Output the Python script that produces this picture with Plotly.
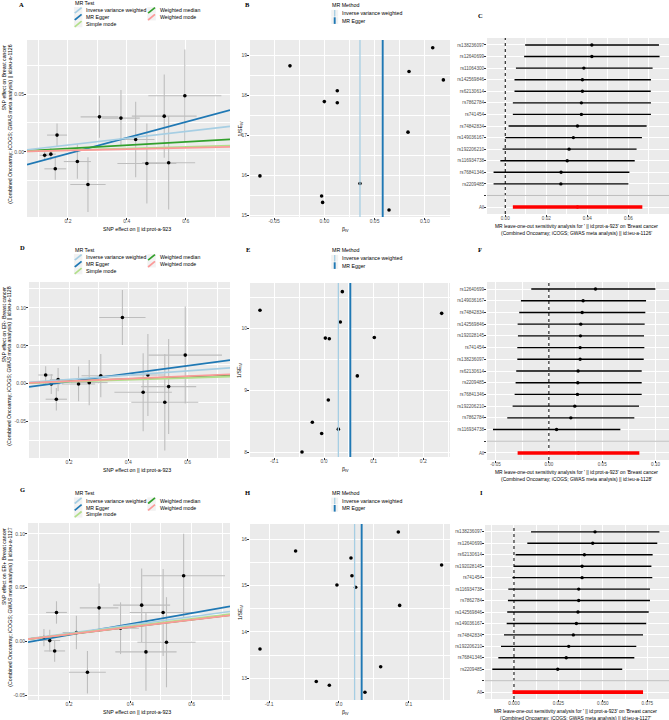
import numpy as np
import plotly.graph_objects as go

W, H = 669, 720
FONT = "Liberation Sans"
GRID_BG = "#EBEBEB"
TICK_COL = "#4D4D4D"

### Couleurs des méthodes MR ###
COLS = {"Inverse variance weighted": "#A6CEE3", "MR Egger": "#1F78B4",
        "Simple mode": "#B2DF8A", "Weighted median": "#33A02C", "Weighted mode": "#FB9A99"}
DRAW_ORDER = ["MR Egger", "Weighted median", "Inverse variance weighted", "Simple mode", "Weighted mode"]

### Données : scatter plots (A, D, G) ###
a_bx = [0.163, 0.157, 0.121, 0.142, 0.232, 0.268, 0.307, 0.380, 0.430, 0.468, 0.527, 0.542, 0.597]
a_bx_se = [0.034, 0.037, 0.017, 0.017, 0.046, 0.060, 0.064, 0.064, 0.064, 0.100, 0.110, 0.090, 0.124]
a_by = [0.0145, -0.0147, -0.0030, -0.0020, -0.0084, -0.0283, 0.0303, 0.0292, 0.0107, -0.0101, 0.0309, -0.0095, 0.0486]
a_by_se = [0.0101, 0.0094, 0.0043, 0.0050, 0.0150, 0.0237, 0.0182, 0.0243, 0.0327, 0.0347, 0.0361, 0.0405, 0.0400]
a_lines = {"MR Egger": (-0.0152, 0.0684), "Weighted median": (0, 0.0143),
           "Inverse variance weighted": (0, 0.0295), "Simple mode": (0, 0.0073), "Weighted mode": (0, 0.0058)}

d_bx = [0.121, 0.140, 0.157, 0.163, 0.232, 0.268, 0.307, 0.380, 0.450, 0.466, 0.523, 0.536, 0.592]
d_bx_se = [0.025, 0.029, 0.036, 0.028, 0.056, 0.062, 0.065, 0.078, 0.097, 0.056, 0.113, 0.093, 0.124]
d_by = [0.0114, -0.0004, -0.0206, 0.0053, -0.0004, 0.0013, 0.0105, 0.0873, -0.0114, 0.0114, -0.0246, -0.0039, 0.0377]
d_by_se = [0.0116, 0.0132, 0.0149, 0.0154, 0.0230, 0.0300, 0.0285, 0.0362, 0.0515, 0.0540, 0.0636, 0.0627, 0.0640]
d_lines = {"MR Egger": (-0.0078, 0.0524), "Weighted median": (0, 0.0153),
           "Inverse variance weighted": (0, 0.0280), "Simple mode": (0, 0.0124), "Weighted mode": (0, 0.0165)}

g_bx = [0.159, 0.118, 0.137, 0.153, 0.224, 0.260, 0.298, 0.368, 0.437, 0.451, 0.507, 0.518, 0.574]
g_bx_se = [0.034, 0.018, 0.034, 0.034, 0.045, 0.060, 0.063, 0.060, 0.093, 0.100, 0.109, 0.095, 0.135]
g_by = [0.0270, 0.0037, 0.0009, -0.0087, 0.0084, -0.0285, 0.0313, 0.0124, 0.0338, -0.0096, 0.0270, -0.0006, 0.0610]
g_by_se = [0.0104, 0.0080, 0.0101, 0.0101, 0.0155, 0.0197, 0.0225, 0.0240, 0.0341, 0.0360, 0.0404, 0.0418, 0.0390]
g_lines = {"MR Egger": (-0.0039, 0.0503), "Weighted median": (0, 0.0338),
           "Inverse variance weighted": (0, 0.0385), "Simple mode": (0, 0.0350), "Weighted mode": (0, 0.0334)}

### Données : funnel plots (B, E, H) ###
b_biv = [-0.0641, -0.0342, -0.0027, -0.0017, 0.0000, 0.0129, 0.0129, 0.0355, 0.0644, 0.0833, 0.0843, 0.1079, 0.1185]
b_invse = [15.99, 18.73, 15.49, 15.33, 17.84, 18.11, 17.81, 15.80, 15.14, 17.08, 18.59, 19.18, 18.38]
b_est = {"Inverse variance weighted": 0.0355, "MR Egger": 0.0581}

e_biv = [-0.1289, -0.0443, -0.0235, -0.0047, 0.0027, 0.0107, 0.0087, 0.0289, 0.0329, 0.0369, 0.0671, 0.1013, 0.2369]
e_invse = [10.29, 8.00, 8.48, 8.30, 9.84, 9.83, 8.84, 8.37, 10.10, 10.59, 9.23, 9.85, 10.24]
e_est = {"Inverse variance weighted": 0.0289, "MR Egger": 0.0530}

h_biv = [-0.1131, -0.0621, -0.0325, -0.0138, -0.0029, 0.0172, 0.0186, 0.0239, 0.0372, 0.0597, 0.0850, 0.0869, 0.1470]
h_invse = [13.63, 15.74, 12.93, 12.85, 15.01, 15.59, 15.21, 14.96, 12.70, 13.25, 16.15, 14.57, 15.44]
h_est = {"Inverse variance weighted": 0.0224, "MR Egger": 0.0325}

### Données : leave-one-out (C, F, I), de haut en bas ###
c_snp = ["rs138236097", "rs12640699", "rs11064300", "rs142569846", "rs62130614", "rs7862784", "rs741454",
         "rs74842834", "rs149036167", "rs192206210", "rs116934738", "rs76841346", "rs2209485"]
c_b = [0.0422, 0.0422, 0.0383, 0.0376, 0.0376, 0.0371, 0.0371, 0.0352, 0.0332, 0.0311, 0.0302, 0.0272, 0.0271]
c_lo = [0.0097, 0.0092, 0.0052, 0.0045, 0.0045, 0.0037, 0.0037, 0.0016, 0.0000, -0.0013, -0.0024, -0.0057, -0.0057]
c_hi = [0.0749, 0.0752, 0.0718, 0.0710, 0.0709, 0.0710, 0.0710, 0.0689, 0.0666, 0.0640, 0.0631, 0.0605, 0.0600]
c_all = (0.0352, 0.0037, 0.0668)

f_snp = ["rs12640699", "rs149036167", "rs74842834", "rs142569846", "rs192028145", "rs741454", "rs138236097",
         "rs62130614", "rs2209485", "rs76841346", "rs192206210", "rs7862784", "rs116934738"]
f_b = [0.0437, 0.0321, 0.0312, 0.0299, 0.0296, 0.0293, 0.0293, 0.0274, 0.0271, 0.0268, 0.0243, 0.0206, 0.0072]
f_lo = [-0.0165, -0.0262, -0.0278, -0.0293, -0.0290, -0.0296, -0.0296, -0.0306, -0.0312, -0.0321, -0.0340, -0.0390, -0.0524]
f_hi = [0.0998, 0.0911, 0.0904, 0.0898, 0.0892, 0.0895, 0.0889, 0.0870, 0.0870, 0.0870, 0.0845, 0.0801, 0.0670]
f_all = (0.0278, -0.0293, 0.0848)

i_snp = ["rs138236097", "rs12640699", "rs62130614", "rs192028145", "rs741454", "rs116934738", "rs7862784",
         "rs142569846", "rs149036167", "rs74842834", "rs192206210", "rs76841346", "rs2209485"]
i_b = [0.0456, 0.0443, 0.0396, 0.0383, 0.0383, 0.0364, 0.0364, 0.0360, 0.0351, 0.0334, 0.0308, 0.0294, 0.0246]
i_lo = [0.0096, 0.0075, 0.0009, 0.0000, -0.0009, -0.0032, -0.0034, -0.0038, -0.0041, -0.0056, -0.0073, -0.0088, -0.0122]
i_hi = [0.0818, 0.0806, 0.0780, 0.0773, 0.0778, 0.0765, 0.0765, 0.0758, 0.0744, 0.0726, 0.0688, 0.0677, 0.0609]
i_all = (0.0359, -0.0008, 0.0726)

### Textes ###
exposure_lab = "SNP effect on || id:prot-a-923"
outcome_tail = "(Combined Oncoarray; iCOGS; GWAS meta analysis) || id:ieu-a-"
loo_head = "MR leave-one-out sensitivity analysis for ' || id:prot-a-923' on 'Breast cancer"


def px(x):
    return x / W


def py(y):
    return 1 - y / H


fig = go.Figure()
annots = []
shapes = []
layout_axes = {}


def ann(x, y, text, size, xanchor="center", yanchor="middle", angle=0, color="black", family=FONT):
    annots.append(dict(x=px(x), y=py(y), xref="paper", yref="paper", text=text, showarrow=False,
                       xanchor=xanchor, yanchor=yanchor, textangle=angle,
                       font=dict(family=family, size=size, color=color)))


def axis(dom, rng, ticks, labels, minor, anchor, size=5, horiz=True):
    d = px(dom[0]), px(dom[1])
    if not horiz:
        d = py(dom[1]), py(dom[0])
    ax = dict(domain=list(d), range=rng, tickmode="array", tickvals=ticks, ticktext=labels,
              showgrid=True, gridcolor="white", gridwidth=1.1, zeroline=False, showline=False,
              ticks="outside", ticklen=2, tickwidth=0.6, tickcolor="#333333",
              ticklabelstandoff=-3 if horiz else -1,
              tickfont=dict(family=FONT, size=size, color=TICK_COL), anchor=anchor, fixedrange=True)
    if minor:
        ax["minor"] = dict(tickmode="array", tickvals=minor, showgrid=True, gridcolor="white",
                           gridwidth=0.55, ticks="")
    return ax


def set_axes(n, xdom, ydom, xr, xt, xl, xm, yr, yt, yl, ym, size=5):
    sx = "" if n == 1 else str(n)
    layout_axes["xaxis" + sx] = axis(xdom, xr, xt, xl, xm, "y" + sx, size)
    layout_axes["yaxis" + sx] = axis(ydom, yr, yt, yl, ym, "x" + sx, size, horiz=False)
    return "x" + sx, "y" + sx


def scatter_panel(n, xdom, ydom, xr, yr, yt, yl, ym, bx, bx_se, by, by_se, lines, ylab1, ylab2):
    xa, ya = set_axes(n, xdom, ydom, xr, [0.2, 0.4, 0.6], ["0.2", "0.4", "0.6"], [0.1, 0.3, 0.5, 0.7],
                      yr, yt, yl, ym)
    fig.add_trace(go.Scatter(x=bx, y=by, mode="markers", xaxis=xa, yaxis=ya,
                             marker=dict(color="black", size=3.6),
                             error_x=dict(type="data", array=bx_se, width=0, thickness=1.1, color="#BEBEBE"),
                             error_y=dict(type="data", array=by_se, width=0, thickness=1.1, color="#BEBEBE")))
    xs = np.array(xr)
    for m in DRAW_ORDER:
        a, b = lines[m]
        fig.add_trace(go.Scatter(x=xs, y=a + b * xs, mode="lines", xaxis=xa, yaxis=ya,
                                 line=dict(color=COLS[m], width=1.7)))
    ann(136.5, ydom[1] + 11.5, exposure_lab, 5.3)
    ann(3.6, ydom[0] + 3, ylab1, 5.2, yanchor="top", angle=-90)
    ann(9.2, ydom[0] + 3, ylab2, 5.2, yanchor="top", angle=-90)


def scatter_legend(x0, y0):
    ann(x0, y0, "MR Test", 5.3, "left")
    cols = [["Inverse variance weighted", "MR Egger", "Simple mode"], ["Weighted median", "Weighted mode"]]
    for ci, col in enumerate(cols):
        kx = x0 + 0.6 + ci * 73.4
        for ri, m in enumerate(col):
            cy = y0 + 7.4 + ri * 6.8
            shapes.append(dict(type="rect", xref="paper", yref="paper", x0=px(kx), x1=px(kx + 8.5),
                               y0=py(cy + 3.3), y1=py(cy - 3.3), fillcolor="#F2F2F2", line=dict(width=0)))
            shapes.append(dict(type="line", xref="paper", yref="paper", x0=px(kx + 0.8), x1=px(kx + 7.7),
                               y0=py(cy + 2.8), y1=py(cy - 2.8), line=dict(color=COLS[m], width=1.7)))
            ann(kx + 10.3, cy, m, 5.2, "left")


def funnel_panel(n, xdom, ydom, xr, xt, xl, xm, yr, yt, ym, biv, invse, est):
    xa, ya = set_axes(n, xdom, ydom, xr, xt, xl, xm, yr, yt, [str(v) for v in yt], ym)
    fig.add_trace(go.Scatter(x=biv, y=invse, mode="markers", xaxis=xa, yaxis=ya,
                             marker=dict(color="black", size=3.6)))
    for m, w in (("Inverse variance weighted", 1.3), ("MR Egger", 1.9)):
        shapes.append(dict(type="line", xref=xa, yref=ya, x0=est[m], x1=est[m], y0=yr[0], y1=yr[1],
                           line=dict(color=COLS[m], width=w), layer="above"))
    ann(345, ydom[1] + 12, "β<sub>IV</sub>", 5.3)
    ann(240, (ydom[0] + ydom[1]) / 2, "1/SE<sub>IV</sub>", 5.3, angle=-90)


def funnel_legend(x0, y0):
    ann(x0, y0, "MR Method", 5.3, "left")
    for ri, (m, w) in enumerate((("Inverse variance weighted", 1.3), ("MR Egger", 1.9))):
        cy = y0 + 8.3 + ri * 7.3
        kx = x0 + 1.2
        shapes.append(dict(type="rect", xref="paper", yref="paper", x0=px(kx), x1=px(kx + 7),
                           y0=py(cy + 3.4), y1=py(cy - 3.4), fillcolor="#F2F2F2", line=dict(width=0)))
        shapes.append(dict(type="line", xref="paper", yref="paper", x0=px(kx + 3.5), x1=px(kx + 3.5),
                           y0=py(cy + 3.3), y1=py(cy - 3.3), line=dict(color=COLS[m], width=w)))
        ann(kx + 8.6, cy, m, 5.2, "left")


def loo_panel(n, xdom, ydom, xr, xt, xl, xm, snp, b, lo, hi, allv, title2):
    k = len(snp)
    ypos = list(range(k + 2, 2, -1))
    yvals = ypos + [2, 1]
    ylabs = snp + ["", "All"]
    yr = [0.4, k + 2.6]
    xa, ya = set_axes(n, xdom, ydom, xr, xt, xl, xm, yr, yvals, ylabs, None, size=4.6)
    shapes.append(dict(type="line", xref=xa, yref=ya, x0=0, x1=0, y0=yr[0], y1=yr[1],
                       line=dict(color="black", width=1, dash="dot"), layer="between"))
    bb, ll, hh = np.array(b), np.array(lo), np.array(hi)
    fig.add_trace(go.Scatter(x=b, y=ypos, mode="markers", xaxis=xa, yaxis=ya,
                             marker=dict(color="black", size=3.4),
                             error_x=dict(type="data", symmetric=False, array=hh - bb, arrayminus=bb - ll,
                                          width=0, thickness=1.4, color="black")))
    fig.add_trace(go.Scatter(x=[allv[0]], y=[1], mode="markers", xaxis=xa, yaxis=ya,
                             marker=dict(color="red", size=3.4),
                             error_x=dict(type="data", symmetric=False, array=[allv[2] - allv[0]],
                                          arrayminus=[allv[0] - allv[1]], width=0, thickness=3.6, color="red")))
    shapes.append(dict(type="line", xref=xa, yref=ya, x0=xr[0], x1=xr[1], y0=2, y1=2,
                       line=dict(color="#BEBEBE", width=1), layer="above"))
    xc = (xdom[0] + xdom[1]) / 2 - 2
    ann(xc, ydom[1] + 12.5, loo_head, 4.9)
    ann(xc, ydom[1] + 19.2, title2, 4.9)


### Rangée 1 ###
scatter_panel(1, (27, 230), (40, 217), [0.061, 0.7503], [-0.0564, 0.0968], [0, 0.05], ["0.00", "0.05"],
              [-0.025, 0.025, 0.075], a_bx, a_bx_se, a_by, a_by_se, a_lines,
              "SNP effect on Breast cancer", outcome_tail + "1126")
funnel_panel(2, (250, 450), (40, 217), [-0.074, 0.1251], [-0.05, 0, 0.05, 0.10], ["-0.05", "0.00", "0.05", "0.10"],
             [-0.025, 0.025, 0.075, 0.125], [14.967, 19.374], [15, 16, 17, 18, 19], [15.5, 16.5, 17.5, 18.5],
             b_biv, b_invse, b_est)
loo_panel(3, (487, 669), (38, 214), [-0.0089, 0.0798], [0, 0.02, 0.04, 0.06], ["0.00", "0.02", "0.04", "0.06"],
          [0.01, 0.03, 0.05, 0.07], c_snp, c_b, c_lo, c_hi, c_all, outcome_tail + "1126'")

### Rangée 2 ###
scatter_panel(4, (29, 230), (282, 458), [0.0648, 0.743], [-0.0982, 0.1342], [-0.05, 0, 0.05, 0.10],
              ["-0.05", "0.00", "0.05", "0.10"], [-0.075, -0.025, 0.025, 0.075, 0.125],
              d_bx, d_bx_se, d_by, d_by_se, d_lines,
              "SNP effect on ER- Breast cancer", outcome_tail + "1128")
funnel_panel(5, (250, 450), (283, 457), [-0.149, 0.2537], [-0.1, 0, 0.1, 0.2], ["-0.1", "0.0", "0.1", "0.2"],
             [-0.05, 0.05, 0.15, 0.25], [7.92, 10.73], [8, 9, 10], [8.5, 9.5, 10.5],
             e_biv, e_invse, e_est)
loo_panel(6, (487, 669), (282, 460), [-0.058, 0.1126], [-0.05, 0, 0.05, 0.10], ["-0.05", "0.00", "0.05", "0.10"],
          [-0.025, 0.025, 0.075], f_snp, f_b, f_lo, f_hi, f_all, outcome_tail + "1128'")

### Rangée 3 ###
scatter_panel(7, (28, 230), (523, 700), [0.066, 0.7253], [-0.0542, 0.110], [-0.05, 0, 0.05, 0.10],
              ["-0.05", "0.00", "0.05", "0.10"], [-0.025, 0.025, 0.075],
              g_bx, g_bx_se, g_by, g_by_se, g_lines,
              "SNP effect on ER+ Breast cancer", outcome_tail + "1127")
funnel_panel(8, (250, 450), (524, 700), [-0.1274, 0.159], [-0.1, 0, 0.1], ["-0.1", "0.0", "0.1"],
             [-0.05, 0.05, 0.15], [12.533, 16.323], [13, 14, 15, 16], [13.5, 14.5, 15.5],
             h_biv, h_invse, h_est)
loo_panel(9, (485, 669), (525, 699), [-0.0163, 0.0872], [0, 0.025, 0.05, 0.075], ["0.000", "0.025", "0.050", "0.075"],
          [-0.0125, 0.0125, 0.0375, 0.0625], i_snp, i_b, i_lo, i_hi, i_all, outcome_tail + "1127'")

### Légendes ###
scatter_legend(73.3, 3)
scatter_legend(73.3, 250)
scatter_legend(73.3, 493.3)
funnel_legend(330, 5)
funnel_legend(330, 250)
funnel_legend(330, 492.7)

### Lettres des panneaux ###
for lab, x, y in [("A", 21.7, 5), ("B", 247.7, 5), ("C", 480, 15), ("D", 22.7, 247.7), ("E", 247.7, 249),
                  ("F", 480, 249), ("G", 22.7, 489.3), ("H", 247.7, 492.7), ("I", 481.7, 492.7)]:
    ann(x, y, "<b>" + lab + "</b>", 6.5, family="Liberation Serif")

fig.update_layout(width=W, height=H, margin=dict(l=0, r=0, t=0, b=0), showlegend=False,
                  paper_bgcolor="white", plot_bgcolor=GRID_BG, annotations=annots, shapes=shapes,
                  **layout_axes)

# la page html a une marge de 8 px par défaut : on la retire
fig.write_html("out.html", config={"displayModeBar": False},
               post_script="document.body.style.margin='0px';document.body.style.overflow='hidden';")
